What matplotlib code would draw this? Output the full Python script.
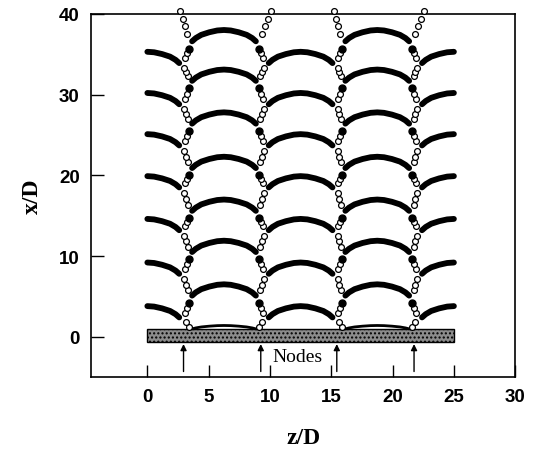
import matplotlib
matplotlib.use("Agg")
import matplotlib.pyplot as plt
from matplotlib.patches import Rectangle

# node positions along the span (z/D) and arc centres
node_z = [3.1, 9.4, 15.6, 21.9]
a_centres = [0.0, 12.5, 25.0]
b_centres = [6.25, 18.75]

# peak heights (x/D) of the two staggered arc families
a_levels = [3.8, 9.2, 14.6, 19.9, 25.1, 30.2, 35.3]
b_levels = [6.5, 11.9, 17.0, 22.3, 27.8, 33.1, 38.0]
bump_level = 1.4

# arc shape (offset from the arc peak)
profile_dz = [-2.6, -2.3, -1.85, -1.2, -0.55, 0.0, 0.55, 1.2, 1.85, 2.3, 2.6]
profile_dx = [-1.4, -1.0, -0.6, -0.28, -0.06, 0.0, -0.06, -0.28, -0.6, -1.0, -1.4]

plate_bottom, plate_top = -0.6, 1.0
z_min, z_max = 0.0, 25.0

xticks = [0, 5, 10, 15, 20, 25, 30]
yticks = [0, 10, 20, 30, 40]

fig = plt.figure(figsize=(5.35, 4.64), dpi=100)
ax = fig.add_axes([0.170, 0.185, 0.793, 0.783])


def draw_arc(centre, level, lw=4.2, scale=1.0):
    zs, xs = [], []
    for dz, dx in zip(profile_dz, profile_dx):
        z = centre + dz
        if z_min <= z <= z_max:
            zs.append(z)
            xs.append(level + dx * scale)
    ax.plot(zs, xs, color="black", lw=lw, solid_capstyle="round",
            solid_joinstyle="round", zorder=3)


for c in a_centres:
    for lev in a_levels:
        draw_arc(c, lev)
for c in b_centres:
    for lev in b_levels:
        draw_arc(c, lev)
    draw_arc(c, bump_level, lw=2.0, scale=0.3)


def open_circles(p0, p1, n):
    zs = [p0[0] + (p1[0] - p0[0]) * (i + 1) / (n + 1) for i in range(n)]
    xs = [p0[1] + (p1[1] - p0[1]) * (i + 1) / (n + 1) for i in range(n)]
    ax.plot(zs, xs, "o", ms=4.2, mfc="white", mec="black", mew=0.9, zorder=4)


for zn in node_z:
    a_c = min(a_centres, key=lambda c: abs(c - zn))
    b_c = min(b_centres, key=lambda c: abs(c - zn))
    # chain hugs the node, slightly toward each arc's end
    za = zn + (0.2 if a_c > zn else -0.2)
    zb = zn + (0.3 if b_c > zn else -0.3)
    end_dx = profile_dx[-1]

    plate_pt = (zb, 1.2)
    ax.plot(*plate_pt, "o", ms=4.2, mfc="white", mec="black", mew=0.9, zorder=4)
    prev = plate_pt
    for k, a_lev in enumerate(a_levels):
        a_end = (za, a_lev + end_dx)
        open_circles(prev, a_end, 1 if k == 0 else 3)
        b_dot = (zb, b_levels[k] - 2.3)
        open_circles(a_end, b_dot, 2)
        ax.plot(*b_dot, "o", ms=5.0, color="black", zorder=4)
        prev = (zb, b_levels[k] + end_dx)
    top_pt = (zn + (0.7 if a_c > zn else -0.4), 40.3)
    open_circles(prev, top_pt, 3)
    ax.plot(*top_pt, "o", ms=4.2, mfc="white", mec="black", mew=0.9,
            zorder=4, clip_on=False)

# flat plate
ax.add_patch(Rectangle((z_min, plate_bottom), z_max - z_min,
                       plate_top - plate_bottom, facecolor="0.55",
                       edgecolor="black", lw=1.0, hatch="....", zorder=2))

# node arrows
for zn in node_z:
    ax.annotate("", xy=(zn - 0.15, plate_bottom - 0.3), xytext=(zn - 0.15, -4.3),
                arrowprops=dict(arrowstyle="-|>", color="black", lw=1.0,
                                mutation_scale=9, shrinkA=0, shrinkB=0))
ax.text(10.2, -2.4, "Nodes", family="Liberation Serif", fontsize=14,
        ha="left", va="center")

ax.set_xlim(-4.6, 30)
ax.set_ylim(-5, 40)
ax.set_xticks(xticks)
ax.set_yticks(yticks)
ax.tick_params(direction="in", length=9, width=1.0, pad=8,
               labelsize=13.5)
for lab in ax.get_xticklabels() + ax.get_yticklabels():
    lab.set_fontweight("bold")
    lab.set_family("Liberation Sans")
for s in ax.spines.values():
    s.set_linewidth(1.2)

ax.set_xlabel("z/D", family="Liberation Serif", fontweight="bold",
              fontsize=17, labelpad=16)
ax.set_ylabel("x/D", family="Liberation Serif", fontweight="bold",
              fontsize=17, labelpad=12)

fig.savefig("out.png", dpi=100)
